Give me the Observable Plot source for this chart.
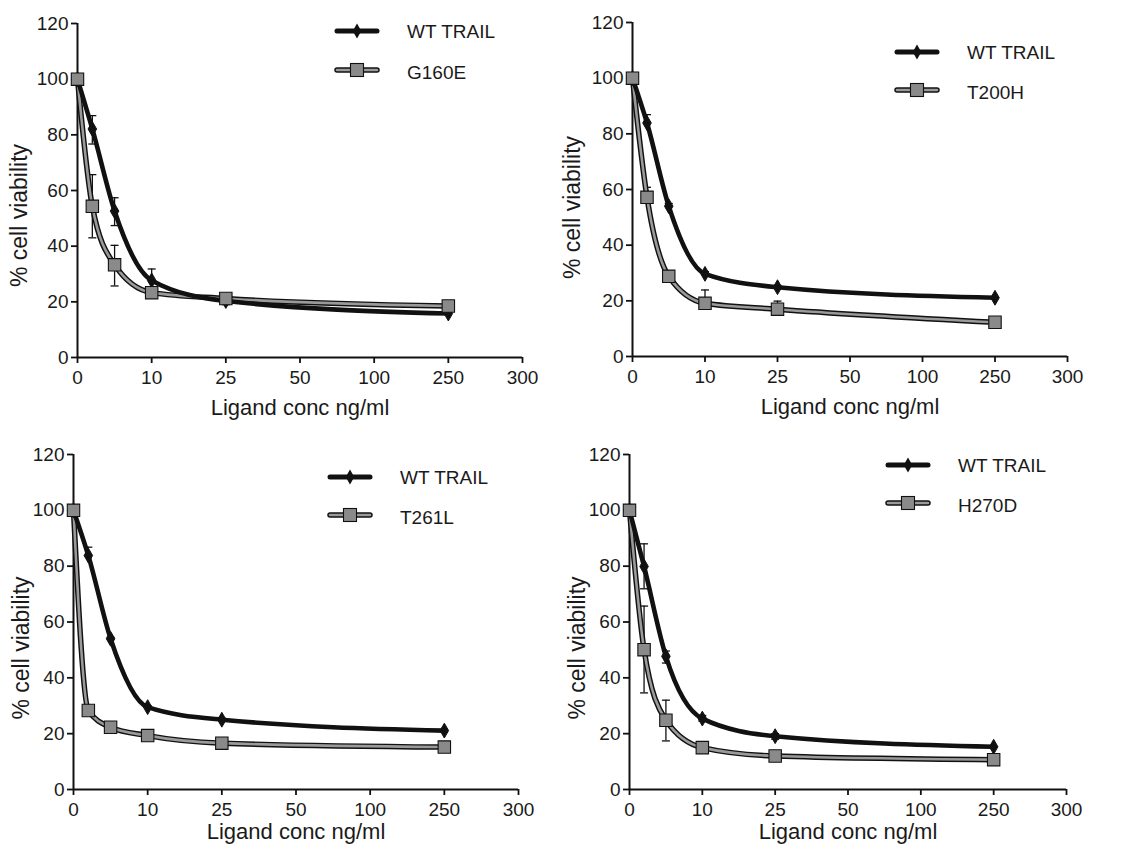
<!DOCTYPE html>
<html><head><meta charset="utf-8">
<script src="https://cdn.jsdelivr.net/npm/d3@7"></script>
<script src="https://cdn.jsdelivr.net/npm/@observablehq/plot@0.6"></script>
<style>
body{margin:0;background:#fff;font-family:"Liberation Sans",Arial,sans-serif;}
#wrap{position:relative;width:1133px;height:850px;overflow:hidden;background:#fff;}
.panel{position:absolute;}
.legend{position:absolute;left:0;top:0;pointer-events:none;overflow:visible;}
</style></head><body><div id="wrap"></div>
<script>
// ---- data ----
const doses = [0, 2, 5, 10, 25, 250];
const xTicks = [0, 10, 25, 50, 100, 250, 300];
const yTicks = [0, 20, 40, 60, 80, 100, 120];
const xLabel = "Ligand conc ng/ml";
const yLabel = "% cell viability";
const wtName = "WT TRAIL";
const mutantNames = ["G160E", "T200H", "T261L", "H270D"];

const wtMean = [
  [100, 82.1, 52.6, 27.7, 20.3, 15.8],
  [100, 83.9, 54.0, 29.7, 24.9, 21.1],
  [100, 83.8, 54.0, 29.5, 25.0, 21.1],
  [100, 79.9, 47.7, 25.4, 19.1, 15.3]
];
const wtUpper = [
  [100, 86.9, 57.4, 31.8, 21.5, 15.8],
  [100, 86.9, 55.0, 30.5, 25.5, 21.1],
  [100, 86.8, 54.5, 30.0, 25.5, 21.1],
  [100, 88.0, 49.6, 26.5, 20.0, 15.3]
];
const wtLower = [
  [100, 76.7, 47.4, 24.0, 19.0, 15.8],
  [100, 83.9, 54.0, 29.7, 24.9, 21.1],
  [100, 83.8, 54.0, 29.5, 25.0, 21.1],
  [100, 71.9, 45.3, 24.5, 18.0, 15.3]
];
const mutMean = [
  [100, 54.3, 33.3, 23.3, 21.2, 18.5],
  [100, 57.2, 28.8, 19.1, 17.0, 12.3],
  [100, 28.3, 22.3, 19.3, 16.6, 15.2],
  [100, 50.1, 24.8, 15.0, 12.0, 10.7]
];
const mutUpper = [
  [100, 65.7, 40.3, 24.5, 22.0, 18.5],
  [100, 60.8, 29.5, 23.9, 19.9, 12.3],
  [100, 28.3, 22.3, 19.3, 16.6, 15.2],
  [100, 65.7, 32.0, 15.5, 12.5, 10.7]
];
const mutLower = [
  [100, 43.0, 25.7, 22.0, 19.3, 18.5],
  [100, 57.2, 28.8, 19.1, 17.0, 12.3],
  [100, 28.3, 22.3, 19.3, 16.6, 15.2],
  [100, 34.6, 17.4, 14.5, 11.5, 10.7]
];

// ---- layout (positions only) ----
const layout = [
  {left: 0,   top: 0,   width: 560, height: 420, ml: 77, mr: 38, mt: 23, mb: 63, xl: 50, yx: -58, yy: 25, lx: 337, ly1: 31, ly2: 70},
  {left: 560, top: 0,   width: 573, height: 420, ml: 72, mr: 66, mt: 22, mb: 64, xl: 50, yx: -60, yy: 18, lx: 337, ly1: 52, ly2: 90},
  {left: 0,   top: 420, width: 560, height: 430, ml: 73, mr: 42, mt: 34, mb: 61, xl: 42, yx: -52, yy: 26, lx: 330, ly1: 57, ly2: 95},
  {left: 560, top: 420, width: 573, height: 430, ml: 69, mr: 67, mt: 34, mb: 61, xl: 42, yx: -52, yy: 26, lx: 328, ly1: 45, ly2: 83}
];

const BLACK = "#111";
const GRAY = "#8a8a8a";
const INNER = "#9a9a9a";
const TEXT = "#1a1a1a";
const capSymbol = {draw(ctx) { ctx.moveTo(-4, 0); ctx.lineTo(4, 0); }};

function rows(mean, up, lo) {
  return doses.map((d, i) => ({dose: d, v: mean[i], hi: up[i], lo: lo[i]}));
}
function errRows(r) {
  return r.filter(d => d.hi > d.v || d.lo < d.v);
}
function caps(r) {
  const out = [];
  for (const d of r) {
    if (d.hi > d.v) out.push({dose: d.dose, y: d.hi});
    if (d.lo < d.v) out.push({dose: d.dose, y: d.lo});
  }
  return out;
}

const wrap = document.getElementById("wrap");

layout.forEach((L, k) => {
  const wt = rows(wtMean[k], wtUpper[k], wtLower[k]);
  const mu = rows(mutMean[k], mutUpper[k], mutLower[k]);
  const errs = errRows(wt).concat(errRows(mu));
  const capRows = caps(wt).concat(caps(mu));

  const chart = Plot.plot({
    width: L.width,
    height: L.height,
    marginLeft: L.ml, marginRight: L.mr, marginTop: L.mt, marginBottom: L.mb,
    style: {fontFamily: '"Liberation Sans", Arial, sans-serif', fontSize: "19px", color: TEXT, background: "white", overflow: "visible"},
    x: {type: "linear", domain: xTicks, label: null},
    y: {domain: [0, 120], label: null},
    marks: [
      Plot.axisX({ticks: xTicks, tickFormat: d => String(d), tickSize: 6, tickPadding: 7, strokeWidth: 1.8, fontSize: 19, label: null, fill: TEXT, stroke: "#111"}),
      Plot.axisY({ticks: yTicks, tickFormat: d => String(d), tickSize: 6, tickPadding: 3, strokeWidth: 1.8, fontSize: 19, label: null, fill: TEXT, stroke: "#111"}),
      Plot.ruleX([0], {stroke: "#111", strokeWidth: 2}),
      Plot.ruleY([0], {x1: 0, x2: 300, stroke: "#111", strokeWidth: 2}),
      Plot.ruleX(errs, {x: "dose", y1: "lo", y2: "hi", stroke: "#111", strokeWidth: 1.3}),
      Plot.dot(capRows, {x: "dose", y: "y", symbol: capSymbol, stroke: "#111", strokeWidth: 1.3, r: 3}),
      Plot.line(mu, {x: "dose", y: "v", curve: "monotone-x", stroke: BLACK, strokeWidth: 5.5}),
      Plot.line(mu, {x: "dose", y: "v", curve: "monotone-x", stroke: INNER, strokeWidth: 2.6}),
      Plot.line(wt, {x: "dose", y: "v", curve: "monotone-x", stroke: BLACK, strokeWidth: 4.6}),
      Plot.dot(wt, {x: "dose", y: "v", symbol: "diamond", r: 4.5, fill: BLACK, stroke: BLACK, strokeWidth: 1}),
      Plot.dot(mu, {x: "dose", y: "v", symbol: "square", r: 7, fill: GRAY, stroke: BLACK, strokeWidth: 1.1}),
      Plot.text([xLabel], {frameAnchor: "bottom", lineAnchor: "middle", textAnchor: "middle", dy: L.xl, fontSize: 22, fill: TEXT}),
      Plot.text([yLabel], {frameAnchor: "left", lineAnchor: "middle", textAnchor: "middle", rotate: -90, dx: L.yx, dy: L.yy, fontSize: 23, fill: TEXT})
    ]
  });

  const div = document.createElement("div");
  div.className = "panel";
  div.style.left = L.left + "px";
  div.style.top = L.top + "px";
  div.style.width = L.width + "px";
  div.style.height = L.height + "px";
  div.appendChild(chart);

  // legend
  const svg = d3.create("svg").attr("class", "legend").attr("width", L.width).attr("height", 120);
  const cx = L.lx + 20;
  svg.append("line").attr("x1", L.lx).attr("x2", L.lx + 40).attr("y1", L.ly1).attr("y2", L.ly1)
    .attr("stroke", BLACK).attr("stroke-width", 5).attr("stroke-linecap", "round");
  svg.append("path").attr("d", d3.symbol(d3.symbolDiamond, Math.PI * 20)()).attr("transform", `translate(${cx},${L.ly1})`)
    .attr("fill", BLACK);
  svg.append("text").attr("x", L.lx + 70).attr("y", L.ly1).attr("dy", "0.35em").attr("font-size", 19).attr("fill", TEXT)
    .attr("font-family", '"Liberation Sans", Arial, sans-serif').text(wtName);
  svg.append("line").attr("x1", L.lx).attr("x2", L.lx + 40).attr("y1", L.ly2).attr("y2", L.ly2)
    .attr("stroke", BLACK).attr("stroke-width", 5.5).attr("stroke-linecap", "round");
  svg.append("line").attr("x1", L.lx).attr("x2", L.lx + 40).attr("y1", L.ly2).attr("y2", L.ly2)
    .attr("stroke", INNER).attr("stroke-width", 2.6).attr("stroke-linecap", "round");
  svg.append("rect").attr("x", cx - 6.5).attr("y", L.ly2 - 6.5).attr("width", 13).attr("height", 13)
    .attr("fill", GRAY).attr("stroke", BLACK).attr("stroke-width", 1.1);
  svg.append("text").attr("x", L.lx + 70).attr("y", L.ly2 + 2).attr("dy", "0.35em").attr("font-size", 19).attr("fill", TEXT)
    .attr("font-family", '"Liberation Sans", Arial, sans-serif').text(mutantNames[k]);
  div.appendChild(svg.node());

  wrap.appendChild(div);
});
</script>
</body></html>
